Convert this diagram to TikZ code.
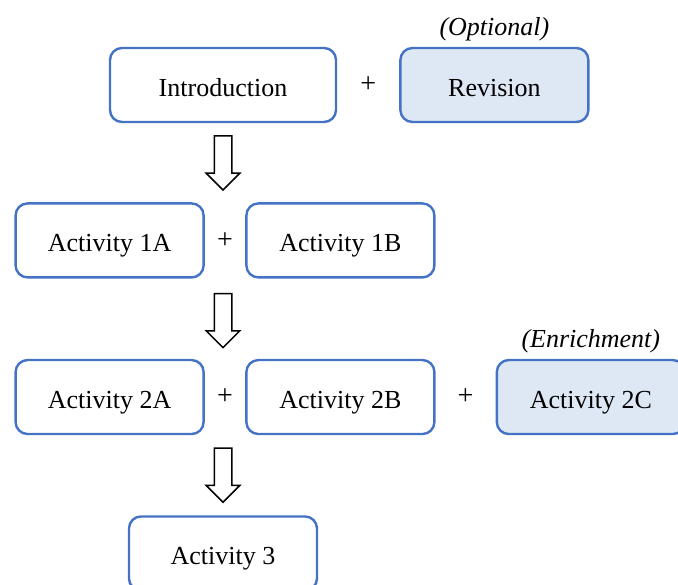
\documentclass[tikz,border=0pt]{standalone}
\usepackage{fontspec}
\setmainfont{Liberation Serif}
\usetikzlibrary{positioning,calc,shapes.arrows}
\definecolor{stageblue}{HTML}{4472C4}
\definecolor{stagefill}{HTML}{DEE7F4}

\begin{document}
\begin{tikzpicture}[
  stage/.style={draw=stageblue,line width=1.2pt,rounded corners=6pt,minimum width=94pt,minimum height=37pt,inner sep=0pt,text height=11.5pt,text depth=0pt,font=\fontsize{13}{15}\selectfont},
  extra/.style={stage,fill=stagefill},
  plus/.style={minimum width=19.8pt,minimum height=37pt,inner sep=0pt,font=\fontsize{14}{16}\selectfont},
  note/.style={inner sep=0pt,font=\fontsize{13}{15}\selectfont\itshape},
  flow/.style={draw,line width=0.75pt,single arrow,shape border rotate=270,minimum height=27pt,minimum width=16pt,single arrow head extend=4pt,single arrow head indent=0pt,inner sep=4pt}]
\useasboundingbox (0,0) rectangle (339pt,-292pt);
\node[stage,minimum width=113pt] (intro) at (111.5pt,-42.5pt) {Introduction};
\node[extra,right=31pt of intro] (revision) {Revision};
\node[plus] (plus0) at ($(intro.east)!.5!(revision.west)$) {+};
\node[note,above=2.5pt of revision] (optional) {(Optional)};
\node[flow,below=6pt of intro] (flow1) {};
\node[plus,below=6pt of flow1,xshift=1pt] (plus1) {+};
\node[stage,left=0pt of plus1] (act1a) {Activity 1A};
\node[stage,right=0pt of plus1] (act1b) {Activity 1B};
\node[flow,below=7.5pt of plus1,xshift=-1pt] (flow2) {};
\node[plus,below=5.5pt of flow2,xshift=1pt] (plus2) {+};
\node[stage,left=0pt of plus2] (act2a) {Activity 2A};
\node[stage,right=0pt of plus2] (act2b) {Activity 2B};
\node[extra,right=30pt of act2b] (act2c) {Activity 2C};
\node[plus] (plus3) at ($(act2b.east)!.5!(act2c.west)$) {+};
\node[note,above=2.5pt of act2c] (enrich) {(Enrichment)};
\node[flow,below=6.5pt of plus2,xshift=-1pt] (flow3) {};
\node[stage,below=6pt of flow3] (act3) {Activity 3};
\end{tikzpicture}
\end{document}
